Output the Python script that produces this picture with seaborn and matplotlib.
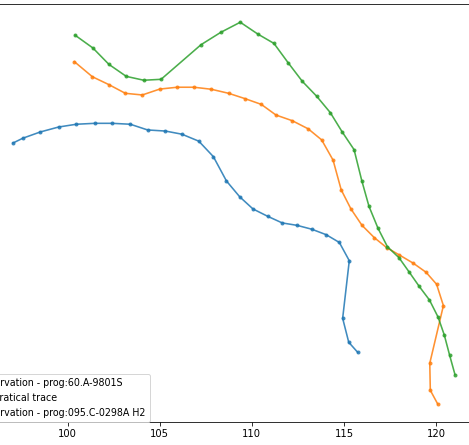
import matplotlib
matplotlib.use("Agg")
import matplotlib.pyplot as plt
import pandas as pd
import seaborn as sns

# Series labels (legend order)
labels = [
    "Observation - prog:60.A-9801S",
    "Theoratical trace",
    "Observation - prog:095.C-0298A H2",
]

# Observation, prog 60.A-9801S
obs60_x = [97.03, 97.56, 98.51, 99.51, 100.47, 101.47, 102.42, 103.40, 104.34,
           105.31, 106.20, 107.12, 107.91, 108.62, 109.34, 110.06, 110.86,
           111.65, 112.45, 113.25, 114.04, 114.75, 115.29, 114.93, 115.26, 115.75]
obs60_y = [15.15, 15.41, 15.75, 16.02, 16.17, 16.22, 16.22, 16.17, 15.86,
           15.80, 15.63, 15.25, 14.41, 13.09, 12.23, 11.57, 11.17,
           10.81, 10.68, 10.47, 10.17, 9.75, 8.76, 5.63, 4.33, 3.78]

# Theoretical trace
theo_x = [100.36, 101.34, 102.24, 103.13, 104.05, 105.00, 105.95, 106.86, 107.80,
          108.74, 109.63, 110.51, 111.31, 112.20, 113.06, 113.79, 114.41, 114.85,
          115.38, 115.98, 116.65, 117.32, 118.01, 118.77, 119.46, 120.03, 120.40,
          119.66, 119.69, 120.09]
theo_y = [19.57, 18.75, 18.32, 17.85, 17.76, 18.08, 18.18, 18.18, 18.07,
          17.85, 17.56, 17.25, 16.67, 16.36, 15.92, 15.32, 14.22, 12.61,
          11.57, 10.68, 10.01, 9.47, 9.07, 8.62, 8.13, 7.48, 6.32,
          3.19, 1.72, 0.98]

# Observation, prog 095.C-0298A H2
obs95_x = [100.41, 101.37, 102.24, 103.18, 104.13, 105.07, 107.24, 108.31, 109.37,
           110.32, 111.20, 111.97, 112.74, 113.52, 114.26, 114.90, 115.55, 115.97,
           116.36, 116.85, 117.36, 117.99, 118.53, 119.09, 119.64, 120.11, 120.45,
           120.74, 121.03]
obs95_y = [21.00, 20.31, 19.42, 18.77, 18.56, 18.61, 20.49, 21.16, 21.71,
           21.07, 20.56, 19.51, 18.50, 17.69, 16.80, 15.76, 14.79, 13.10,
           11.71, 10.52, 9.52, 8.92, 8.16, 7.36, 6.63, 5.70, 4.72,
           3.62, 2.57]

xticks = [100, 105, 110, 115, 120]

series = [(obs60_x, obs60_y), (theo_x, theo_y), (obs95_x, obs95_y)]
frames = []
for lab, (xs, ys) in zip(labels, series):
    frames.append(pd.DataFrame({"x": xs, "y": ys, "trace": lab,
                                "step": range(len(xs))}))
df = pd.concat(frames, ignore_index=True)

palette = dict(zip(labels, sns.color_palette("tab10", 3)))

fig = plt.figure(figsize=(469 / 72, 445 / 72), dpi=72)
# The axes run past both side edges of the canvas
ax = fig.add_axes([-0.1384, 0.0517, 1.1702, 0.9393])

sns.lineplot(data=df, x="x", y="y", hue="trace", hue_order=labels,
             palette=palette, sort=False, estimator=None, units="trace",
             marker="o", markersize=4, markeredgewidth=0, linewidth=1.6,
             alpha=0.85, legend=False, ax=ax)

for line, lab in zip(ax.lines, labels):
    line.set_label(lab)

ax.set_xlim(92.8, 122.6)
ax.set_ylim(0, 22.7)
ax.set_xticks(xticks)
ax.set_yticks([])
ax.set_xlabel("")
ax.set_ylabel("")
ax.tick_params(labelsize=10)

ax.legend(loc="lower right", bbox_to_anchor=(149.5 / 469, 23.5 / 445),
          bbox_transform=fig.transFigure, borderaxespad=0, fontsize=9.5,
          labelspacing=0.5)

fig.savefig("out.png", dpi=72)
